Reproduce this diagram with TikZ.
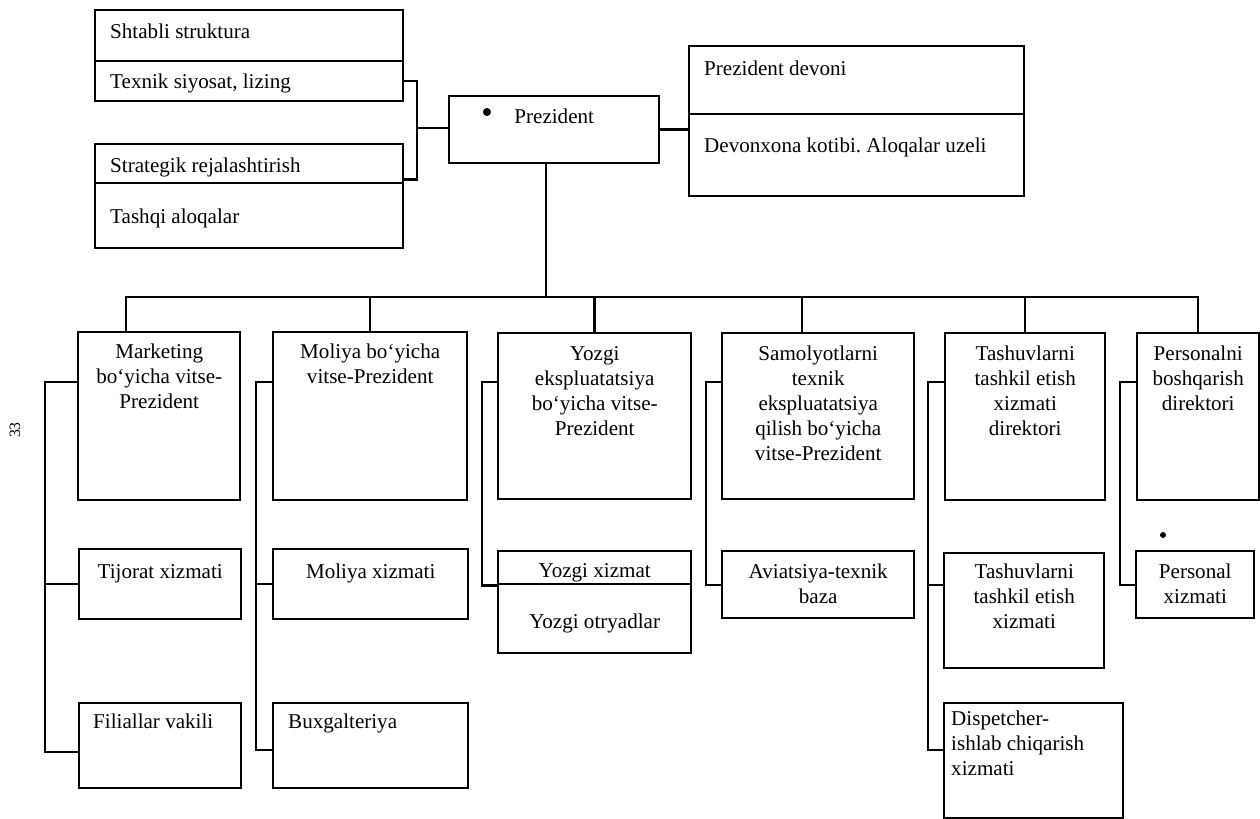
\documentclass[tikz,border=0pt]{standalone}
\usepackage{fontspec}
\setmainfont{Liberation Serif}
\usetikzlibrary{positioning,calc}
\frenchspacing

\begin{document}
\begin{tikzpicture}[x=0.02cm, y=0.02cm, line width=1.4pt,
  cell/.style 2 args={draw, inner sep=0pt, anchor=north west, minimum width=#1, minimum height=#2},
  txt/.style={inner sep=0pt, align=center, font=\fontsize{12}{14.2}\selectfont},
  txtl/.style={txt, align=left}]
  \useasboundingbox (0,0) rectangle (1260,-818);
  \def\Ybus{-297};
  \def\Ylink{-382};

  % staff
  \node[cell={6.16cm}{1.02cm}] (sht) at (94,-9) {};
  \node[cell={6.16cm}{0.80cm}] (tex) at (94,-60) {};
  \node[cell={6.16cm}{0.78cm}] (str) at (94,-143) {};
  \node[cell={6.16cm}{1.30cm}] (tsh) at (94,-182) {};
  \node[txtl, below right=0.28cm and 0.30cm of sht.north west] (sht-t) {Shtabli struktura};
  \node[txtl, below right=0.26cm and 0.30cm of tex.north west] (tex-t) {Texnik siyosat, lizing};
  \node[txtl, below right=0.28cm and 0.30cm of str.north west] (str-t) {Strategik rejalashtirish};
  \node[txtl, below right=0.52cm and 0.30cm of tsh.north west] (tsh-t) {Tashqi aloqalar};

  % president and office
  \node[cell={4.20cm}{1.34cm}] (pres) at (448,-95) {};
  \node[txt, below=0.26cm of pres.north] (pres-t) {Prezident};
  \fill (487,-112) circle (0.08cm);
  \node[cell={6.70cm}{1.36cm}] (dev) at (688,-45) {};
  \node[cell={6.70cm}{1.64cm}] (dvx) at (688,-113) {};
  \node[txtl, below right=0.30cm and 0.30cm of dev.north west] (dev-t) {Prezident devoni};
  \node[txtl, below right=0.48cm and 0.30cm of dvx.north west] (dvx-t) {Devonxona kotibi. Aloqalar uzeli};

  % vice-presidents and directors
  \node[cell={3.24cm}{3.36cm}] (mk) at (77,-331) {};
  \node[cell={3.88cm}{3.36cm}] (mo) at (272,-331) {};
  \node[cell={3.86cm}{3.32cm}] (yz) at (497,-332) {};
  \node[cell={3.84cm}{3.32cm}] (sa) at (721,-332) {};
  \node[cell={3.20cm}{3.34cm}] (ta) at (944,-332) {};
  \node[cell={2.44cm}{3.34cm}] (pe) at (1136,-332) {};
  \node[txt, below=0.24cm of mk.north] (mk-t) {Marketing\\bo‘yicha vitse-\\Prezident};
  \node[txt, below=0.24cm of mo.north] (mo-t) {Moliya bo‘yicha\\vitse-Prezident};
  \node[txt, below=0.26cm of yz.north] (yz-t) {Yozgi\\ekspluatatsiya\\bo‘yicha vitse-\\Prezident};
  \node[txt, below=0.26cm of sa.north] (sa-t) {Samolyotlarni\\texnik\\ekspluatatsiya\\qilish bo‘yicha\\vitse-Prezident};
  \node[txt, below=0.26cm of ta.north] (ta-t) {Tashuvlarni\\tashkil etish\\xizmati\\direktori};
  \node[txt, below=0.26cm of pe.north] (pe-t) {Personalni\\boshqarish\\direktori};

  % services
  \node[cell={3.24cm}{1.40cm}] (tij) at (78,-548) {};
  \node[cell={3.24cm}{1.70cm}] (fil) at (78,-702) {};
  \node[cell={3.90cm}{1.40cm}] (mox) at (272,-548) {};
  \node[cell={3.90cm}{1.70cm}] (bux) at (272,-702) {};
  \node[cell={3.86cm}{0.66cm}] (yx) at (497,-550) {};
  \node[cell={3.86cm}{1.38cm}] (yo) at (497,-583) {};
  \node[cell={3.84cm}{1.34cm}] (avi) at (721,-550) {};
  \node[cell={3.20cm}{2.30cm}] (tas2) at (943,-552) {};
  \node[cell={3.58cm}{2.30cm}] (dsp) at (943,-702) {};
  \node[cell={2.36cm}{1.34cm}] (per2) at (1135,-550) {};
  \node[txt, below=0.30cm of tij.north] (tij-t) {Tijorat xizmati};
  \node[txtl, below right=0.22cm and 0.28cm of fil.north west] (fil-t) {Filiallar vakili};
  \node[txt, below=0.30cm of mox.north] (mox-t) {Moliya xizmati};
  \node[txtl, below right=0.22cm and 0.30cm of bux.north west] (bux-t) {Buxgalteriya};
  \node[txt, below=0.24cm of yx.north] (yx-t) {Yozgi xizmat};
  \node[txt, below=0.60cm of yo.north] (yo-t) {Yozgi otryadlar};
  \node[txt, below=0.26cm of avi.north] (avi-t) {Aviatsiya-texnik\\baza};
  \node[txt, below=0.22cm of tas2.north] (tas2-t) {Tashuvlarni\\tashkil etish\\xizmati};
  \node[txtl, below right=0.16cm and 0.14cm of dsp.north west] (dsp-t) {Dispetcher-\\ishlab chiqarish\\xizmati};
  \node[txt, below=0.26cm of per2.north] (per2-t) {Personal\\xizmati};
  \fill (1163,-535) circle (0.06cm);

  % page number
  \node[rotate=90, inner sep=0pt, font=\fontsize{9}{9}\selectfont] (pg) at (15,-430) {33};

  % staff bracket
  \coordinate (brk) at (417,-128);
  \draw (tex.east) -| (brk) |- ([yshift=0.1cm]str.south east);
  \draw (brk) -- (brk -| pres.west);
  \draw (pres.east) -- (pres.east -| dvx.west);

  % bus
  \coordinate (bus) at (546,\Ybus);
  \draw (bus |- pres.south) -- (bus);
  \draw ([xshift=-0.66cm]mk.north) |- (pe.north |- bus) -- (pe.north);
  \foreach \n in {mo,yz,ta}
    \draw (\n.north) -- (\n.north |- bus);
  \draw ([xshift=-0.32cm]sa.north) -- ([xshift=-0.32cm]sa.north |- bus);

  % column links
  \coordinate (mk-sp) at (45,\Ylink);
  \coordinate (mo-sp) at (256,\Ylink);
  \coordinate (yz-sp) at (482,\Ylink);
  \coordinate (sa-sp) at (706,\Ylink);
  \coordinate (ta-sp) at (928,\Ylink);
  \coordinate (pe-sp) at (1120,\Ylink);
  \draw (mk.west |- mk-sp) -- (mk-sp) |- ([yshift=-1cm]fil.north west);
  \draw (tij.west) -- (tij.west -| mk-sp);
  \draw (mo.west |- mo-sp) -- (mo-sp) |- ([yshift=-0.96cm]bux.north west);
  \draw (mox.west) -- (mox.west -| mo-sp);
  \draw (yz.west |- yz-sp) -- (yz-sp) |- (yx.south west);
  \draw (sa.west |- sa-sp) -- (sa-sp) |- (avi.west);
  \draw (ta.west |- ta-sp) -- (ta-sp) |- ([yshift=-0.96cm]dsp.north west);
  \draw ([yshift=-0.66cm]tas2.north west) -- ([yshift=-0.66cm]tas2.north west -| ta-sp);
  \draw (pe.west |- pe-sp) -- (pe-sp) |- (per2.west);
\end{tikzpicture}
\end{document}
